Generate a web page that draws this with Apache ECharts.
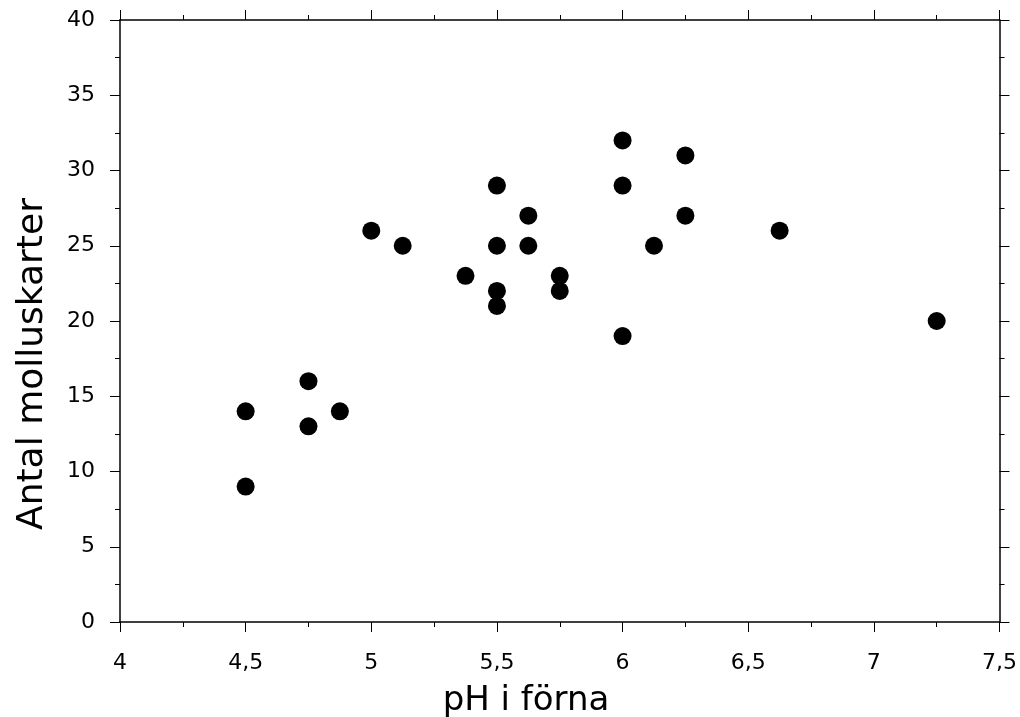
<!DOCTYPE html>
<html>
<head>
<meta charset="utf-8">
<script src="https://cdn.jsdelivr.net/npm/echarts@6/dist/echarts.min.js"></script>
<style>html,body{margin:0;padding:0;background:#fff}#c{width:1020px;height:717px}</style>
</head>
<body>
<div id="c"></div>
<script>
const phValues = [5.0, 5.125, 5.375, 5.5, 5.5, 5.5, 5.5, 5.625, 5.625, 5.75, 5.75, 6.0, 6.0, 6.0, 6.25, 6.25, 6.125, 6.625, 7.25, 4.5, 4.5, 4.75, 4.75, 4.875];
const speciesCounts = [26, 25, 23, 29, 25, 22, 21, 27, 25, 23, 22, 32, 29, 19, 31, 27, 25, 26, 20, 14, 9, 16, 13, 14];
const xTitle = 'pH i förna';
const yTitle = 'Antal molluskarter';

const fmt = v => String(v).replace('.', ',');
const font = 'DejaVu Sans, Verdana, sans-serif';
const points = phValues.map((x, i) => [x, speciesCounts[i]]);

const axisCommon = {
  type: 'value',
  axisLine: { show: true, onZero: false, lineStyle: { color: '#000', width: 1.5 } },
  axisTick: { show: true, inside: false, length: 10, lineStyle: { color: '#000', width: 1 } },
  minorTick: { show: true, splitNumber: 2, length: 5, lineStyle: { color: '#000', width: 1 } },
  splitLine: { show: false },
  minorSplitLine: { show: false }
};

const chart = echarts.init(document.getElementById('c'), null, { renderer: 'canvas' });
chart.setOption({
  animation: false,
  backgroundColor: '#fff',
  grid: { left: 120, right: 20, top: 20, bottom: 95 },
  xAxis: [
    Object.assign({}, axisCommon, {
      position: 'bottom', min: 4, max: 7.5, interval: 0.5,
      axisLabel: { formatter: fmt, color: '#000', fontSize: 22, fontFamily: font, margin: 30 }
    }),
    Object.assign({}, axisCommon, {
      position: 'top', min: 4, max: 7.5, interval: 0.5,
      axisLabel: { show: false }
    })
  ],
  yAxis: [
    Object.assign({}, axisCommon, {
      position: 'left', min: 0, max: 40, interval: 5,
      axisLabel: { formatter: fmt, color: '#000', fontSize: 22, fontFamily: font, margin: 25, padding: [10, 0, 0, 0] }
    }),
    Object.assign({}, axisCommon, {
      position: 'right', min: 0, max: 40, interval: 5,
      axisLabel: { show: false }
    })
  ],
  graphic: [
    {
      type: 'text', x: 526, y: 701,
      style: { text: xTitle, fill: '#000', font: '34px ' + font, textAlign: 'center', textVerticalAlign: 'middle' }
    },
    {
      type: 'text', x: 33, y: 364, rotation: Math.PI / 2,
      style: { text: yTitle, fill: '#000', font: '36px ' + font, textAlign: 'center', textVerticalAlign: 'middle' }
    }
  ],
  series: [{
    type: 'scatter',
    xAxisIndex: 0, yAxisIndex: 0,
    data: points,
    symbol: 'circle',
    symbolSize: 18,
    itemStyle: { color: '#000', opacity: 1 }
  }]
});
</script>
</body>
</html>
